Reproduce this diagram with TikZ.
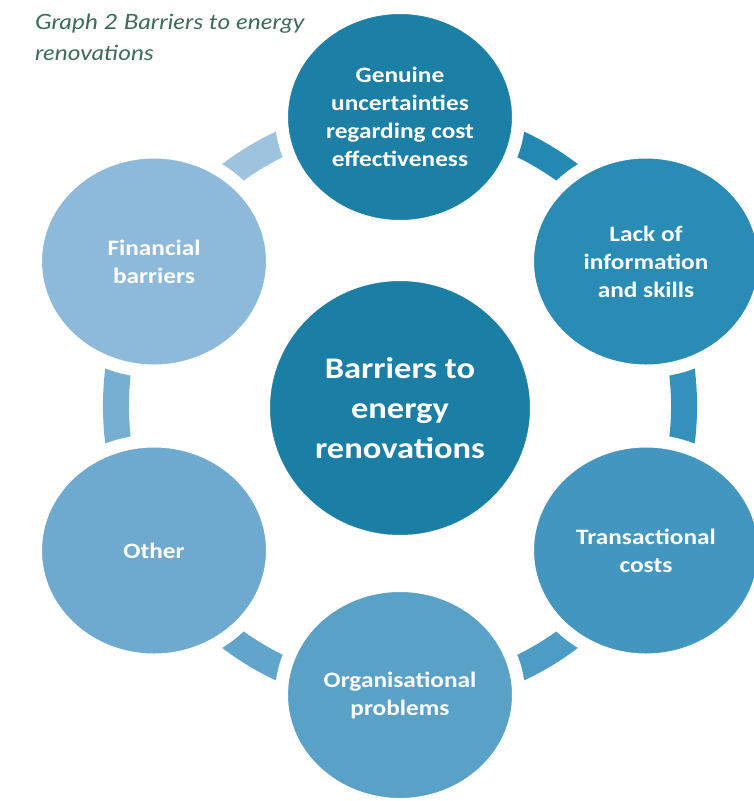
\documentclass[tikz,border=0pt]{standalone}
\usepackage{fontspec}
\setmainfont{Carlito}
\newfontfamily\labelfont{Carlito}[FakeStretch=1.15]
\newfontfamily\titlefont{Lato}[FakeStretch=1.17]
\usetikzlibrary{shapes.geometric}

% palette: darkest at the top, lighter going clockwise
\definecolor{hubblue}{HTML}{1B7EA4}
\definecolor{cTop}{HTML}{1B7FA6}
\definecolor{cLack}{HTML}{2A8BB5}
\definecolor{cTrans}{HTML}{4396C0}
\definecolor{cOrg}{HTML}{5AA1C8}
\definecolor{cOther}{HTML}{6EAACF}
\definecolor{cFin}{HTML}{8DBADA}
\definecolor{rTop}{HTML}{2388B2}
\definecolor{rLack}{HTML}{3391BB}
\definecolor{rTrans}{HTML}{4C9CC5}
\definecolor{rOrg}{HTML}{62A5CC}
\definecolor{rOther}{HTML}{77AFD3}
\definecolor{rFin}{HTML}{9DC3DF}
\definecolor{titlegreen}{HTML}{3E6B5B}

\pgfdeclarelayer{ring}
\pgfsetlayers{ring,main}

\begin{document}
\begin{tikzpicture}[x=1pt,y=-1pt,
  bubble/.style={ellipse, draw=white, line width=13pt, inner sep=0pt,
    minimum width=237pt, minimum height=219pt, text=white, align=center,
    font=\labelfont\bfseries\fontsize{22}{28}\selectfont},
  hub/.style={bubble, minimum width=273pt, minimum height=267pt,
    font=\labelfont\bfseries\fontsize{30}{40}\selectfont},
  link/.style={line width=26pt},
  caption/.style={anchor=north west, inner sep=0pt, align=left, text=titlegreen,
    font=\titlefont\itshape\fontsize{21}{31}\selectfont}
]
\useasboundingbox (0,0) rectangle (754,801);

\node[caption] (title) at (35,14) {Graph 2 Barriers to energy\\renovations};

% outer ring of barriers on an ellipse centred on (400,406), radii 284 x 289
\node[bubble, fill=cTop]   (top)   at (400,117)   {Genuine\\uncertainties\\regarding cost\\effectiveness};
\node[bubble, fill=cLack]  (lack)  at (646,261.5) {Lack of\\information\\and skills};
\node[bubble, fill=cTrans] (trans) at (646,550.5) {Transactional\\costs};
\node[bubble, fill=cOrg]   (org)   at (400,695)   {Organisational\\problems};
\node[bubble, fill=cOther] (other) at (154,550.5) {Other};
\node[bubble, fill=cFin]   (fin)   at (154,261.5) {Financial\\barriers};

\node[hub, fill=hubblue] (hub) at (400,408) {Barriers to\\energy\\renovations};

% ring segments running clockwise from circle to circle
\begin{pgfonlayer}{ring}
\fill[white] (0,0) rectangle (754,801);
\tikzset{ringarc/.style={x radius=284, y radius=289}}
\draw[link, rTop]   (top.center)   arc[start angle=-90, end angle=-30, ringarc];
\draw[link, rLack]  (lack.center)  arc[start angle=-30, end angle=30,  ringarc];
\draw[link, rTrans] (trans.center) arc[start angle=30,  end angle=90,  ringarc];
\draw[link, rOrg]   (org.center)   arc[start angle=90,  end angle=150, ringarc];
\draw[link, rOther] (other.center) arc[start angle=150, end angle=210, ringarc];
\draw[link, rFin]   (fin.center)   arc[start angle=210, end angle=270, ringarc];
\end{pgfonlayer}
\end{tikzpicture}
\end{document}
